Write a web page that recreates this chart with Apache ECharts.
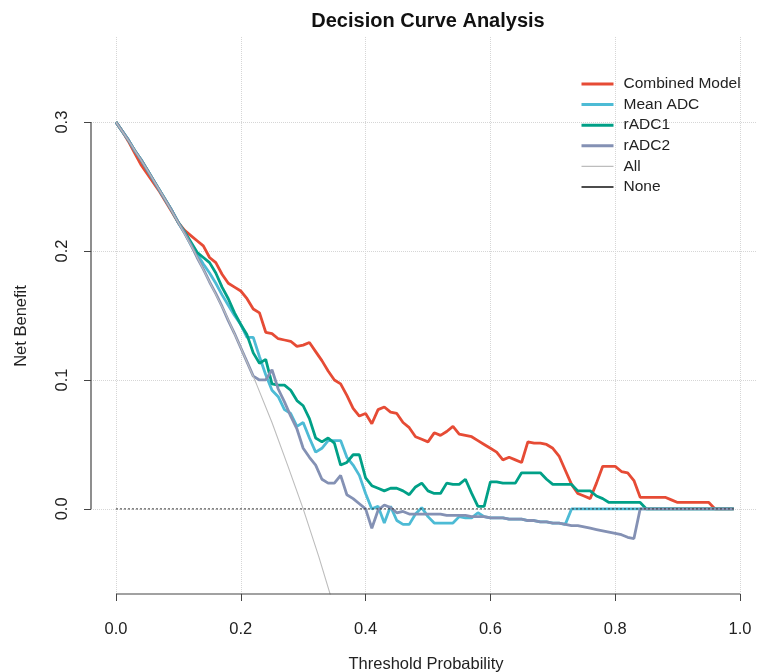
<!DOCTYPE html>
<html>
<head>
<meta charset="utf-8">
<script src="https://cdn.jsdelivr.net/npm/echarts@6/dist/echarts.min.js"></script>
<style>html,body{margin:0;padding:0;background:#fff;}#chart{width:757px;height:672px;}</style>
</head>
<body>
<div id="chart"></div>
<script>
// ---------- DATA ----------
const thresholds = [0.00,0.01,0.02,0.03,0.04,0.05,0.06,0.07,0.08,0.09,
  0.10,0.11,0.12,0.13,0.14,0.15,0.16,0.17,0.18,0.19,
  0.20,0.21,0.22,0.23,0.24,0.25,0.26,0.27,0.28,0.29,
  0.30,0.31,0.32,0.33,0.34,0.35,0.36,0.37,0.38,0.39,
  0.40,0.41,0.42,0.43,0.44,0.45,0.46,0.47,0.48,0.49,
  0.50,0.51,0.52,0.53,0.54,0.55,0.56,0.57,0.58,0.59,
  0.60,0.61,0.62,0.63,0.64,0.65,0.66,0.67,0.68,0.69,
  0.70,0.71,0.72,0.73,0.74,0.75,0.76,0.77,0.78,0.79,
  0.80,0.81,0.82,0.83,0.84,0.85,0.86,0.87,0.88,0.89,
  0.90,0.91,0.92,0.93,0.94,0.95,0.96,0.97,0.98,0.99];

const combinedModel = [0.300,0.293,0.285,0.276,0.267,0.260,0.253,0.246,0.238,0.230,
  0.222,0.216,0.212,0.208,0.204,0.195,0.191,0.182,0.175,0.172,
  0.169,0.163,0.155,0.152,0.137,0.136,0.132,0.131,0.130,0.126,
  0.127,0.129,0.122,0.115,0.107,0.100,0.097,0.088,0.078,0.072,
  0.074,0.066,0.077,0.079,0.075,0.074,0.067,0.063,0.056,0.054,
  0.052,0.059,0.057,0.060,0.064,0.058,0.057,0.056,0.053,0.050,
  0.047,0.044,0.038,0.040,0.038,0.036,0.052,0.051,0.051,0.050,
  0.047,0.041,0.030,0.019,0.012,0.010,0.008,0.020,0.033,0.033,
  0.033,0.029,0.028,0.022,0.009,0.009,0.009,0.009,0.009,0.007,
  0.005,0.005,0.005,0.005,0.005,0.005,0.000,0.000,0.000,0.000];

const meanADC = [0.300,0.293,0.286,0.278,0.271,0.263,0.255,0.247,0.239,0.231,
  0.222,0.214,0.205,0.198,0.190,0.183,0.175,0.166,0.158,0.150,
  0.143,0.133,0.133,0.118,0.104,0.092,0.087,0.077,0.074,0.064,
  0.067,0.055,0.044,0.047,0.053,0.053,0.053,0.040,0.034,0.026,
  0.012,0.000,0.002,-0.011,0.002,-0.009,-0.012,-0.012,-0.004,0.001,
  -0.006,-0.011,-0.011,-0.011,-0.011,-0.006,-0.007,-0.007,-0.003,-0.006,
  -0.007,-0.007,-0.007,-0.008,-0.008,-0.008,-0.009,-0.009,-0.010,-0.010,
  -0.011,-0.011,-0.012,0.000,0.000,0.000,0.000,0.000,0.000,0.000,
  0.000,0.000,0.000,0.000,0.000,0.000,0.000,0.000,0.000,0.000,
  0.000,0.000,0.000,0.000,0.000,0.000,0.000,0.000,0.000,0.000];

const rADC1 = [0.300,0.293,0.286,0.278,0.271,0.263,0.255,0.247,0.239,0.231,
  0.222,0.215,0.207,0.199,0.195,0.191,0.183,0.172,0.163,0.152,
  0.143,0.135,0.121,0.113,0.116,0.097,0.096,0.096,0.092,0.084,
  0.080,0.070,0.055,0.052,0.055,0.051,0.034,0.036,0.042,0.042,
  0.024,0.018,0.016,0.014,0.016,0.016,0.014,0.011,0.017,0.020,
  0.014,0.012,0.012,0.020,0.019,0.019,0.023,0.012,0.002,0.002,
  0.021,0.021,0.020,0.020,0.020,0.028,0.028,0.028,0.028,0.023,
  0.019,0.019,0.019,0.019,0.014,0.014,0.014,0.010,0.008,0.005,
  0.005,0.005,0.005,0.005,0.005,0.000,0.000,0.000,0.000,0.000,
  0.000,0.000,0.000,0.000,0.000,0.000,0.000,0.000,0.000,0.000];

const rADC2 = [0.300,0.293,0.286,0.278,0.271,0.263,0.255,0.247,0.239,0.231,
  0.222,0.214,0.205,0.195,0.186,0.176,0.167,0.157,0.146,0.136,
  0.125,0.114,0.103,0.100,0.100,0.108,0.093,0.083,0.072,0.062,
  0.047,0.040,0.034,0.023,0.020,0.020,0.026,0.011,0.008,0.004,
  0.000,-0.015,-0.001,0.003,0.001,-0.003,-0.002,-0.004,-0.004,-0.004,
  -0.004,-0.004,-0.004,-0.005,-0.005,-0.005,-0.005,-0.006,-0.006,-0.006,
  -0.007,-0.007,-0.007,-0.008,-0.008,-0.008,-0.009,-0.009,-0.010,-0.010,
  -0.011,-0.011,-0.012,-0.013,-0.013,-0.014,-0.015,-0.016,-0.017,-0.018,
  -0.019,-0.020,-0.022,-0.023,0.000,0.000,0.000,0.000,0.000,0.000,
  0.000,0.000,0.000,0.000,0.000,0.000,0.000,0.000,0.000,0.000];

const allX = [0.000,0.025,0.050,0.075,0.100,0.125,0.150,0.175,0.200,0.225,0.250,0.275,0.300,0.325,0.350];
const allY = [0.300,0.282,0.263,0.243,0.222,0.200,0.176,0.152,0.125,0.097,0.067,0.034,0.000,-0.037,-0.077];

const noneX = [0.00, 0.99];
const noneY = [0.000, 0.000];

const xTicks = [0.0, 0.2, 0.4, 0.6, 0.8, 1.0];
const yTicks = [0.0, 0.1, 0.2, 0.3];

const seriesNames = ['Combined Model', 'Mean ADC', 'rADC1', 'rADC2', 'All', 'None'];
const colors = ['#E64B35', '#4DBBD5', '#00A087', '#8491B4', '#BDBDBD', '#333333'];

// ---------- CHART ----------
const X_MIN = -0.04, X_MAX = 1.0272, Y_MIN = -0.066, Y_MAX = 0.366;
const FONT = "'Liberation Sans', Arial, Helvetica, sans-serif";

const pair = (xs, ys) => xs.map((x, i) => [x, ys[i]]);

const chart = echarts.init(document.getElementById('chart'), null, {renderer: 'canvas'});

const modelSeries = [combinedModel, meanADC, rADC1, rADC2].map((vals, i) => ({
  name: seriesNames[i],
  type: 'line',
  data: pair(thresholds, vals),
  showSymbol: false,
  symbol: 'none',
  lineStyle: {color: colors[i], width: 2.8},
  itemStyle: {color: colors[i]},
  z: 3 + i,
  animation: false
}));

const option = {
  animation: false,
  backgroundColor: '#ffffff',
  textStyle: {fontFamily: FONT},
  grid: {left: 91, right: 0, top: 37, bottom: 78, containLabel: false},
  xAxis: {
    type: 'value', min: X_MIN, max: X_MAX,
    axisLine: {show: false, onZero: false},
    axisTick: {show: true, customValues: xTicks, length: 7, lineStyle: {color: '#444', width: 1}},
    axisLabel: {customValues: xTicks, margin: 27, fontSize: 16.5, color: '#222', fontFamily: FONT,
      formatter: v => v.toFixed(1)},
    splitLine: {show: true, lineStyle: {color: '#d6d6d6', type: 'dotted', width: 1}}
  },
  yAxis: {
    type: 'value', min: Y_MIN, max: Y_MAX,
    axisLine: {show: false, onZero: false},
    axisTick: {show: true, customValues: yTicks, length: 7, lineStyle: {color: '#444', width: 1}},
    axisLabel: {customValues: yTicks, margin: 20, fontSize: 16.5, color: '#222', rotate: 90, fontFamily: FONT,
      formatter: v => v.toFixed(1)},
    splitLine: {show: true, lineStyle: {color: '#d6d6d6', type: 'dotted', width: 1}}
  },
  legend: {
    orient: 'vertical', left: 580, top: 76, padding: 0,
    itemWidth: 32, itemHeight: 14, itemGap: 4.6,
    itemStyle: {opacity: 0},
    lineStyle: {width: 3},
    textStyle: {fontSize: 15.5, color: '#222', fontFamily: FONT, padding: [0, 0, 0, 5]},
    data: [
      {name: 'Combined Model'}, {name: 'Mean ADC'}, {name: 'rADC1'}, {name: 'rADC2'},
      {name: 'All', lineStyle: {width: 1.2}},
      {name: 'None', lineStyle: {type: 'solid', color: '#111', width: 1.3}}
    ]
  },
  graphic: [
    {type: 'text', x: 428, y: 11, style: {text: 'Decision Curve Analysis', font: 'bold 20px ' + FONT, fill: '#111', align: 'center'}},
    {type: 'text', x: 426, y: 656, style: {text: 'Threshold Probability', font: '16.5px ' + FONT, fill: '#222', align: 'center'}},
    {type: 'text', x: 13, y: 326, rotation: Math.PI / 2, style: {text: 'Net Benefit', font: '16.5px ' + FONT, fill: '#222', align: 'center', verticalAlign: 'top'}}
  ],
  series: [
    ...modelSeries,
    {
      name: 'All', type: 'line', data: pair(allX, allY), showSymbol: false, symbol: 'none',
      lineStyle: {color: colors[4], width: 1.1}, itemStyle: {color: colors[4]}, z: 8
    },
    {
      name: 'None', type: 'line', data: pair(noneX, noneY), showSymbol: false, symbol: 'none',
      lineStyle: {color: colors[5], width: 1, type: [2, 2]}, itemStyle: {color: colors[5]}, z: 9
    },
    {
      name: 'xaxisline', type: 'line', data: [[xTicks[0], Y_MIN], [xTicks[xTicks.length - 1], Y_MIN]],
      showSymbol: false, symbol: 'none', clip: false, silent: true,
      lineStyle: {color: '#444', width: 1.2}, z: 10
    },
    {
      name: 'yaxisline', type: 'line', data: [[X_MIN, yTicks[0]], [X_MIN, yTicks[yTicks.length - 1]]],
      showSymbol: false, symbol: 'none', clip: false, silent: true,
      lineStyle: {color: '#444', width: 1.2}, z: 10
    }
  ]
};
chart.setOption(option);
</script>
</body>
</html>
